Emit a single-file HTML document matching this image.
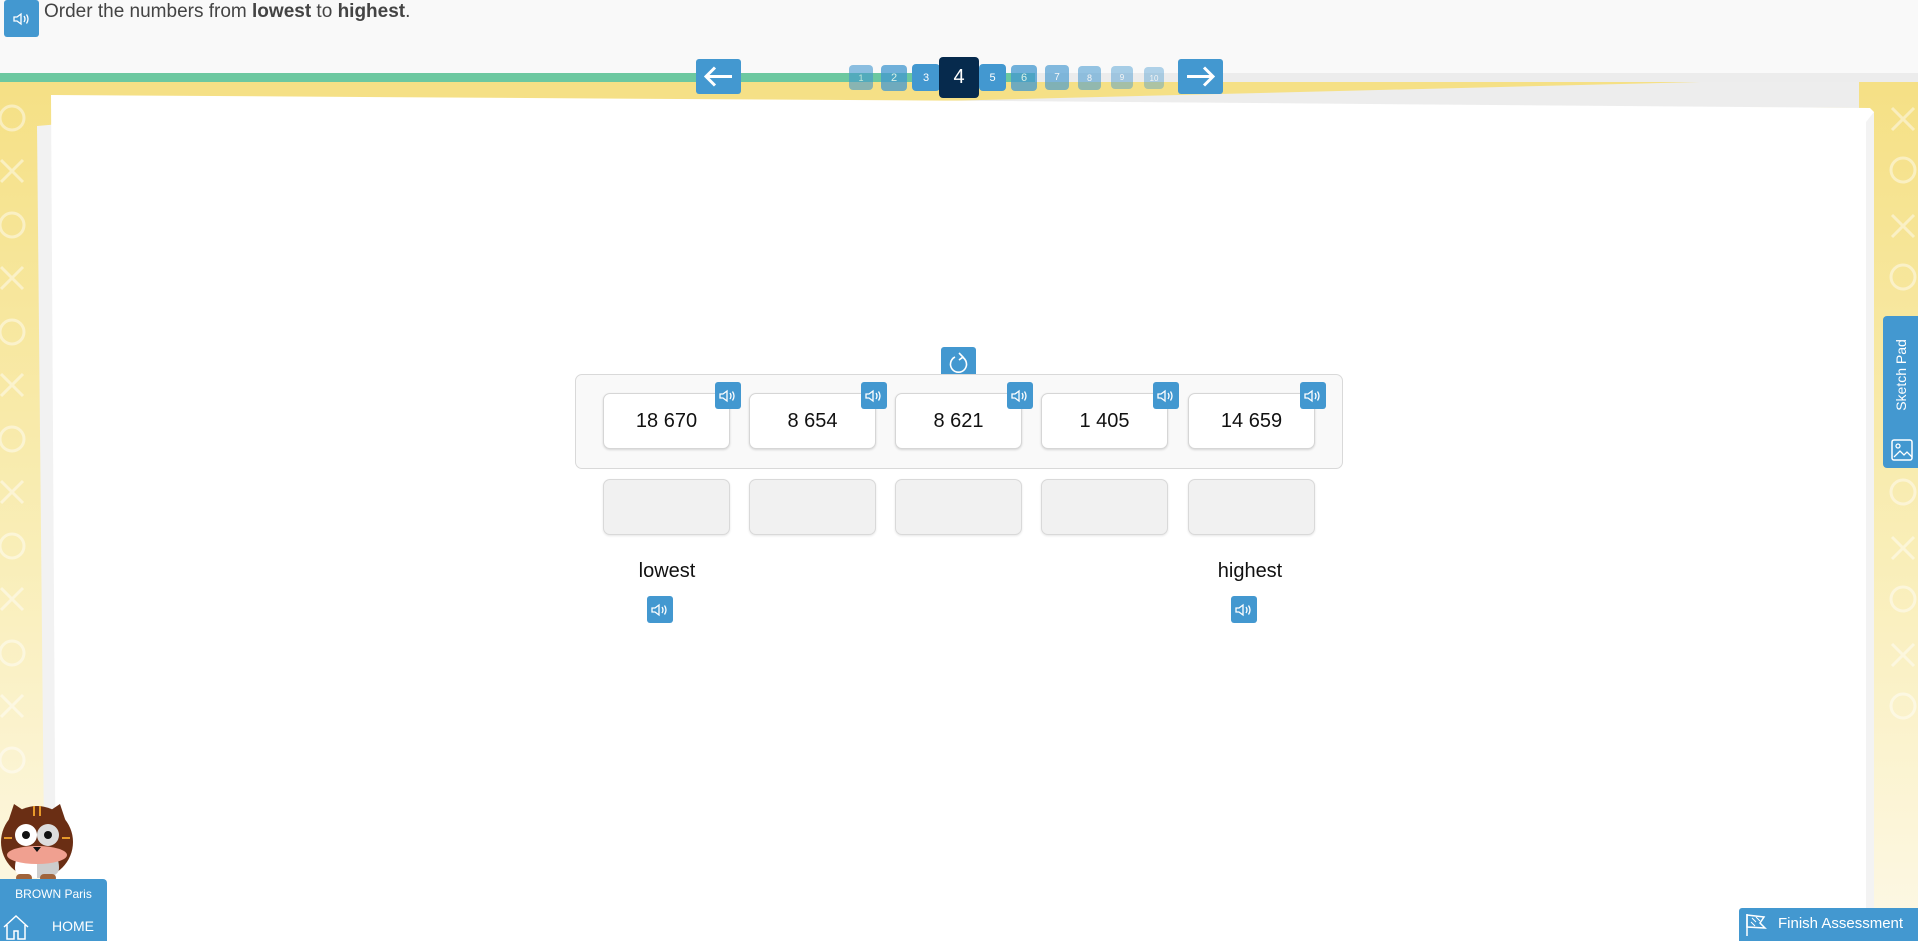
<!DOCTYPE html>
<html><head><meta charset="utf-8">
<style>
*{margin:0;padding:0;box-sizing:border-box}
body{width:1918px;height:941px;overflow:hidden;position:relative;font-family:"Liberation Sans",sans-serif;background:#fff}
.abs{position:absolute}
.blue{background:#4398d0;border-radius:3px}
.pg{position:absolute;background:#4398d0;color:#fff;border-radius:4px;display:flex;align-items:center;justify-content:center;font-size:11px}
.card{position:absolute;top:393px;width:127px;height:56px;background:#fff;border:1px solid #d6d6d6;border-radius:7px;box-shadow:0 1px 2px rgba(0,0,0,.15);display:flex;align-items:center;justify-content:center;font-size:20px;color:#111}
.slot{position:absolute;top:479px;width:127px;height:56px;background:#f1f1f1;border:1px solid #d9d9d9;border-radius:7px;box-shadow:0 1px 2px rgba(0,0,0,.1)}
.badge{position:absolute;width:26px;height:27px;background:#4398d0;border-radius:3px;display:flex;align-items:center;justify-content:center}
</style></head><body>
<svg width="0" height="0" style="position:absolute"><defs>
<symbol id="sp" viewBox="0 0 20 14"><path d="M2 5h3l4-3v10l-4-3H2z" fill="none" stroke="#fff" stroke-width="1.3"/><path d="M12 4q2 3 0 6M14.5 2.5q3 4.5 0 9" fill="none" stroke="#fff" stroke-width="1.3"/></symbol>
</defs></svg>

<!-- top bar -->
<div class="abs" style="left:0;top:0;width:1918px;height:73px;background:#f9f9f9"></div>
<div class="abs" style="left:0;top:73px;width:1918px;height:9px;background:#ececec"></div>
<div class="abs" style="left:0;top:73px;width:1035px;height:9px;background:#6cc8a0"></div>
<!-- yellow bg -->
<div class="abs" style="left:0;top:82px;width:1918px;height:859px;background:linear-gradient(#f5e085,#f9eeb8 55%,#fdf8e6)"></div>
<svg class="abs" style="left:0;top:82px" width="1918" height="859">
<g fill="none" stroke="rgba(255,255,255,0.45)" stroke-width="3">
<circle cx="12" cy="36" r="12"/><path d="M1 78l22 22M23 78L1 100"/>
<circle cx="12" cy="143" r="12"/><path d="M1 185l22 22M23 185L1 207"/>
<circle cx="12" cy="250" r="12"/><path d="M1 292l22 22M23 292L1 314"/>
<circle cx="12" cy="357" r="12"/><path d="M1 399l22 22M23 399L1 421"/>
<circle cx="12" cy="464" r="12"/><path d="M1 506l22 22M23 506L1 528"/>
<circle cx="12" cy="571" r="12"/><path d="M1 613l22 22M23 613L1 635"/>
<circle cx="12" cy="678" r="12"/>
<path d="M1892 26l22 22M1914 26l-22 22"/><circle cx="1903" cy="88" r="12"/>
<path d="M1892 133l22 22M1914 133l-22 22"/><circle cx="1903" cy="195" r="12"/>
<path d="M1892 240l22 22M1914 240l-22 22"/>
<circle cx="1903" cy="410" r="12"/><path d="M1892 455l22 22M1914 455l-22 22"/><circle cx="1903" cy="517" r="12"/><path d="M1892 562l22 22M1914 562l-22 22"/><circle cx="1903" cy="624" r="12"/>
</g>
<!-- gray paper band at top right -->
<polygon points="900,20 1700,0 1859,0 1859,26" fill="#ededed"/>
<!-- back paper left -->
<polygon points="37,44 60,42 60,859 45,859" fill="#f2f2f2"/>
<!-- main card -->
<polygon points="51,13 1000,19 1870,26 1874,30 1870,859 56,859" fill="#fff"/>
<polygon points="1866,40 1874,30 1874,859 1866,859" fill="#f3f3f3"/>
</svg>

<!-- header -->
<div class="abs blue" style="left:4px;top:0;width:35px;height:37px;display:flex;align-items:center;justify-content:center"><svg width="20" height="14"><use href="#sp"/></svg></div>
<div class="abs" style="left:44px;top:1px;font-size:19px;color:#444">Order the numbers from <b>lowest</b> to <b>highest</b>.</div>

<!-- nav -->
<div class="abs blue" style="left:696px;top:59px;width:45px;height:35px"><svg width="45" height="35"><path d="M10 17.5h26M19 8.5l-9 9 9 9" fill="none" stroke="#fff" stroke-width="3"/></svg></div>
<div class="abs blue" style="left:1178px;top:59px;width:45px;height:35px"><svg width="45" height="35"><path d="M9 17.5h26M26 8.5l9 9-9 9" fill="none" stroke="#fff" stroke-width="3"/></svg></div>
<div class="pg" style="left:849px;top:65px;width:24px;height:25px;opacity:.6;font-size:9px">1</div>
<div class="pg" style="left:881px;top:65px;width:26px;height:26px;opacity:.75">2</div>
<div class="pg" style="left:912px;top:64px;width:28px;height:27px">3</div>
<div class="pg" style="left:979px;top:64px;width:27px;height:27px">5</div>
<div class="pg" style="left:1011px;top:65px;width:26px;height:26px;opacity:.75">6</div>
<div class="pg" style="left:1045px;top:65px;width:24px;height:25px;opacity:.65;font-size:10px">7</div>
<div class="pg" style="left:1078px;top:66px;width:23px;height:24px;opacity:.55;font-size:9px">8</div>
<div class="pg" style="left:1111px;top:66px;width:22px;height:23px;opacity:.45;font-size:8px">9</div>
<div class="pg" style="left:1144px;top:67px;width:20px;height:22px;opacity:.4;font-size:8px">10</div>
<div class="pg" style="left:939px;top:57px;width:40px;height:41px;background:#062a4d;font-size:20px">4</div>

<!-- activity -->
<div class="abs blue" style="left:941px;top:347px;width:35px;height:32px"><svg width="35" height="32"><path d="M21 10a8 8 0 1 1 -7 0" fill="none" stroke="#fff" stroke-width="1.6"/><path d="M18 6l4 4-4 3" fill="none" stroke="#fff" stroke-width="1.6"/></svg></div>
<div class="abs" style="left:575px;top:374px;width:768px;height:95px;background:#f9f9f9;border:1px solid #d9d9d9;border-radius:7px"></div>
<div class="card" style="left:603px">18 670</div>
<div class="card" style="left:749px">8 654</div>
<div class="card" style="left:895px">8 621</div>
<div class="card" style="left:1041px">1 405</div>
<div class="card" style="left:1188px">14 659</div>
<div class="badge" style="left:715px;top:382px"><svg width="20" height="14"><use href="#sp"/></svg></div>
<div class="badge" style="left:861px;top:382px"><svg width="20" height="14"><use href="#sp"/></svg></div>
<div class="badge" style="left:1007px;top:382px"><svg width="20" height="14"><use href="#sp"/></svg></div>
<div class="badge" style="left:1153px;top:382px"><svg width="20" height="14"><use href="#sp"/></svg></div>
<div class="badge" style="left:1300px;top:382px"><svg width="20" height="14"><use href="#sp"/></svg></div>
<div class="slot" style="left:603px"></div>
<div class="slot" style="left:749px"></div>
<div class="slot" style="left:895px"></div>
<div class="slot" style="left:1041px"></div>
<div class="slot" style="left:1188px"></div>
<div class="abs" style="left:607px;top:560px;width:120px;text-align:center;font-size:20px;color:#111">lowest</div>
<div class="abs" style="left:1190px;top:560px;width:120px;text-align:center;font-size:20px;color:#111">highest</div>
<div class="badge" style="left:647px;top:596px"><svg width="20" height="14"><use href="#sp"/></svg></div>
<div class="badge" style="left:1231px;top:596px"><svg width="20" height="14"><use href="#sp"/></svg></div>

<!-- sketch pad -->
<div class="abs" style="left:1883px;top:316px;width:35px;height:152px;background:#4398d0;border-radius:4px 0 0 4px"></div>
<div class="abs" style="left:1883px;top:316px;width:35px;height:118px;display:flex;align-items:center;justify-content:center"><div style="transform:rotate(-90deg);color:#fff;font-size:14px;white-space:nowrap">Sketch Pad</div></div>
<svg class="abs" style="left:1891px;top:439px" width="22" height="22"><rect x="1" y="1" width="20" height="20" rx="2" fill="none" stroke="#fff" stroke-width="1.5"/><circle cx="7" cy="7" r="2" fill="none" stroke="#fff" stroke-width="1.3"/><path d="M3 18l6-6 4 4 3-3 5 5" fill="none" stroke="#fff" stroke-width="1.3"/></svg>

<!-- owl -->
<svg class="abs" style="left:0;top:800px" width="80" height="82">
<path d="M8 22L14 4 26 12M66 22L60 4 48 12" fill="#6a2e14"/>
<circle cx="37" cy="42" r="36" fill="#6a2e14"/>
<path d="M37 48c-18 0-22 10-22 20 0 8 10 10 22 10V48z" fill="#fff"/><path d="M37 48c18 0 22 10 22 20 0 8-10 10-22 10z" fill="#ccc"/>
<ellipse cx="37" cy="55" rx="30" ry="9" fill="#f0a090"/>
<circle cx="26" cy="35" r="11" fill="#fff"/><circle cx="48" cy="35" r="11" fill="#ddd"/>
<circle cx="26" cy="35" r="4" fill="#111"/><circle cx="48" cy="35" r="4" fill="#111"/>
<path d="M33 47h8l-4 5z" fill="#111"/>
<rect x="16" y="74" width="16" height="8" rx="4" fill="#a0643c"/><rect x="40" y="74" width="16" height="8" rx="4" fill="#a0643c"/>
<path d="M34 6v10M40 6v10M4 38h8M62 38h8" stroke="#e89a2a" stroke-width="2"/>
</svg>
<div class="abs" style="left:0;top:879px;width:107px;height:62px;background:#4398d0;border-radius:0 4px 0 0"></div>
<div class="abs" style="left:0;top:887px;width:107px;text-align:center;color:#fff;font-size:12px">BROWN Paris</div>
<svg class="abs" style="left:2px;top:913px" width="28" height="28"><path d="M2 14L14 3l12 11M5 12v14h7v-8h4v8h7V12" fill="none" stroke="#fff" stroke-width="1.5"/></svg>
<div class="abs" style="left:52px;top:918px;color:#fff;font-size:14px">HOME</div>

<!-- finish -->
<div class="abs" style="left:1739px;top:908px;width:179px;height:33px;background:#4398d0;border-radius:3px 0 0 0"></div>
<svg class="abs" style="left:1744px;top:911px" width="24" height="26"><path d="M3 25V3" stroke="#fff" stroke-width="1.5"/><path d="M3 4l17 2-4 6 5 5-18-1z" fill="none" stroke="#fff" stroke-width="1.5"/><path d="M8 7l4 4M12 6l4 4M7 11l4 4" stroke="#fff"/></svg>
<div class="abs" style="left:1778px;top:915px;color:#fff;font-size:15px">Finish Assessment</div>
</body></html>
